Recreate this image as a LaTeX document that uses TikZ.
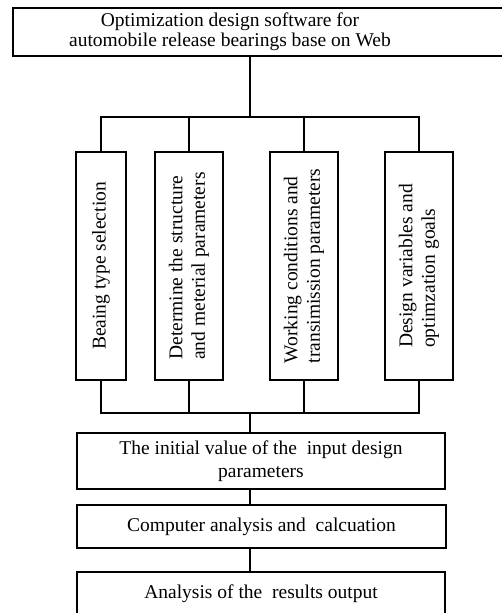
\documentclass[tikz,border=0pt]{standalone}
\usepackage{fontspec}
\setmainfont{Liberation Serif}
\newcommand\vlines[1]{\begin{tabular}{@{}l@{}}#1\end{tabular}}
\begin{document}
\begin{tikzpicture}[x=1pt,y=-1pt,
  box/.style={draw, line width=1.4pt, inner sep=0pt},
  txt/.style={font=\fontsize{19.5}{21}\selectfont, inner sep=0pt},
  vtxt/.style={font=\fontsize{19.5}{22.5}\selectfont, inner sep=0pt, rotate=90},
  conn/.style={line width=1.4pt}]
\useasboundingbox (0,0) rectangle (502,613);
% top box
\node[box, minimum width=491pt, minimum height=48pt] (top) at (258.5,32) {};
\node[txt, font=\fontsize{19.5}{20}\selectfont, align=center] (toptext) at (230,32) {Optimization design software for\\automobile release bearings base on Web};
% vertical boxes
\node[box, minimum width=50pt, minimum height=228pt] (b1) at (101,266) {};
\node[box, minimum width=68pt, minimum height=228pt] (b2) at (189,266) {};
\node[box, minimum width=68pt, minimum height=228pt] (b3) at (304,266) {};
\node[box, minimum width=68pt, minimum height=228pt] (b4) at (419,266) {};
\node[vtxt] (t1) at (b1) {\vlines{Beaing type selection}};
\node[vtxt] (t2) at (b2) {\vlines{Determine the structure\\and meterial parameters}};
\node[vtxt] (t3) at (b3) {\vlines{Working conditions and\\transimission parameters}};
\node[vtxt] (t4) at (b4) {\vlines{Design variables and\\optimzation goals}};
% lower boxes
\node[box, minimum width=368pt, minimum height=56pt, align=center, txt, font=\fontsize{19.5}{23}\selectfont] (b5) at (261,461) {The initial value of the~ input design\\parameters};
\node[box, minimum width=369pt, minimum height=43pt, txt] (b6) at (261.5,526.5) {Computer analysis and~ calcuation};
\node[box, minimum width=368pt, minimum height=43pt, txt] (b7) at (261,593.5) {Analysis of the~ results output};
% bus coordinates
\coordinate (busT) at (250,117);
\coordinate (busB) at (250,413);
\draw[conn] (top.south -| busT) -- (busT);
\draw[conn] (b1.north) |- (busT);
\draw[conn] (b2.north) -- (b2.north |- busT);
\draw[conn] (b3.north) -- (b3.north |- busT);
\draw[conn] (b4.north) |- (busT);
\draw[conn] (b1.south) |- (busB);
\draw[conn] (b2.south) -- (b2.south |- busB);
\draw[conn] (b3.south) -- (b3.south |- busB);
\draw[conn] (b4.south) |- (busB);
\draw[conn] (busB) -- (b5.north -| busB);
\draw[conn] (b5.south -| busB) -- (b6.north -| busB);
\draw[conn] (b6.south -| busB) -- (b7.north -| busB);
\end{tikzpicture}
\end{document}
